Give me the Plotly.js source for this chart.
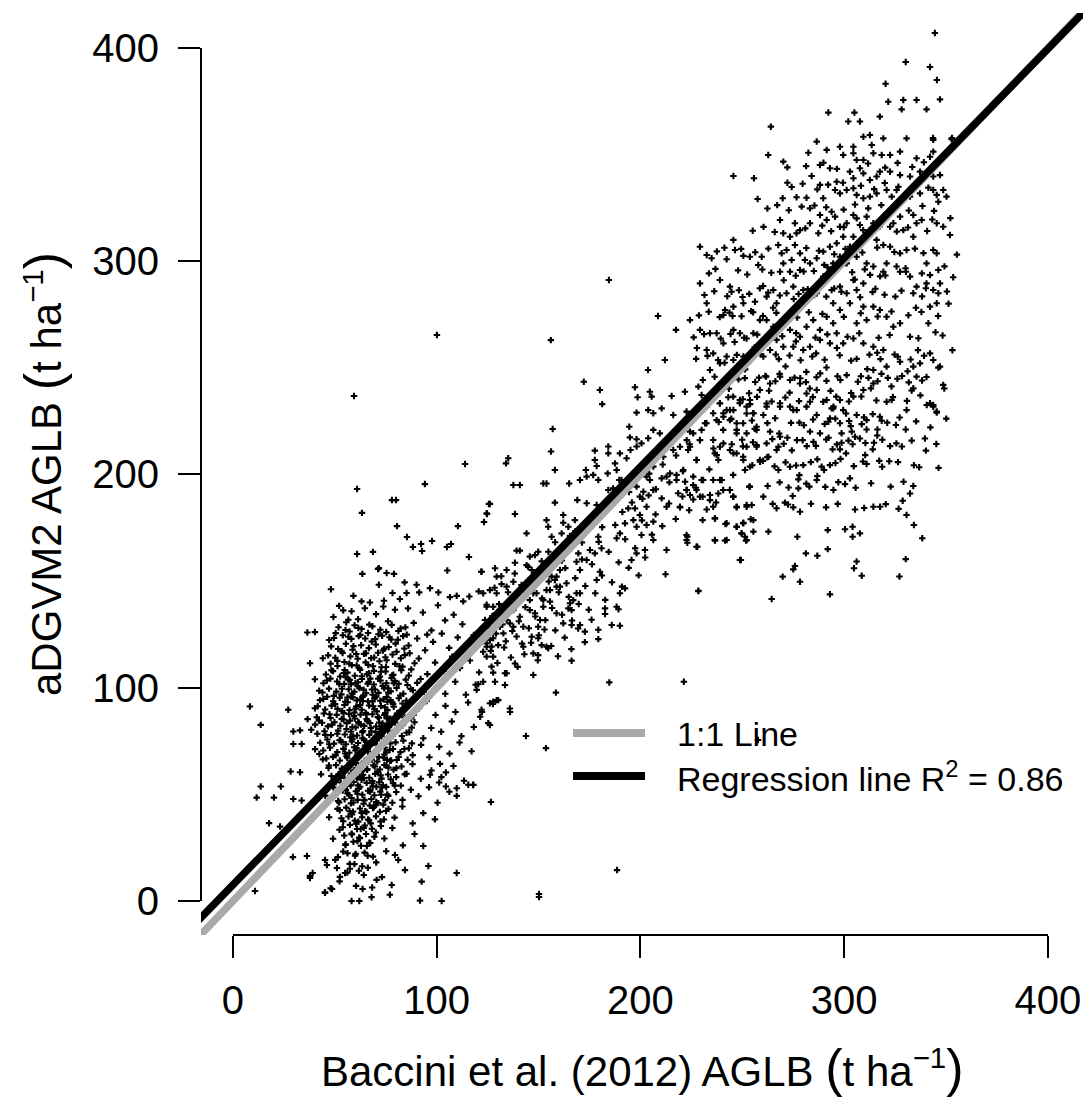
<!DOCTYPE html>
<html><head><meta charset="utf-8">
<script src="https://cdn.plot.ly/plotly-3.0.1.min.js"></script>
<style>html,body{margin:0;padding:0;background:#fff}#chart{width:1089px;height:1097px}</style>
</head><body><div id="chart"></div>
<script>
// ---- data ----
const xTicks = [0, 100, 200, 300, 400];
const yTicks = [0, 100, 200, 300, 400];
const regIntercept = 7.6;
const regSlope = 0.98;
const rSquared = 0.86;
const lineX = [-20, 420];
const xRange = [-15.7, 417.2];
const yRange = [-15.94, 416.4];

const ptsLowOutliers = [[71.6,156.1],[63.5,153.4],[75.4,153.8],[79,153.4],[105.2,155],[121.9,154.4],[48.1,146.2],[71.6,148.3],[84.2,149.4],[90.1,148.3],
[96.7,146.7],[100.8,144.7],[59.1,143.1],[63.1,140.5],[67.2,140],[74.1,140.8],[78.3,144.4],[81.9,141.6],[85.2,144.4],[91.4,144.7],
[106.5,142.5],[109.8,143.1],[113,140.5],[116,142.8],[120.6,145.2],[124.5,138.9],[54.1,136.3],[56.6,131.9],[61.5,128],[36.5,125.9],
[40.2,126.1],[37.8,111.5],[40.2,104],[8.3,91.2],[27.1,89.7],[13.6,82.6],[36.6,85.3],[29.6,79.5],[32.9,80],[29.6,73.6],
[33.7,73.6],[42.4,68.9],[28.3,60.7],[32.9,60.4],[13.6,53.7],[23.5,53.7],[11.6,48.5],[20.1,48.5],[29.6,47.8],[33.7,47.1],
[17.7,36.5],[23.1,34.9],[37.8,11.8],[39.1,13.1],[10.8,4.7],[45.1,4.1],[47.9,6],[58.2,0],[62,0],[68,1.8],
[77,2.9],[63.6,5.6],[70.5,9.9],[77.9,7.5],[84.4,14.5],[92.6,9.1],[95.9,16.4],[91.8,0.2],[102.4,0],[109.8,13.1],
[93.4,25.8],[79.5,21.6],[115.5,54.5],[118,54.5],[109.8,52.9],[109.8,49.3],[104.5,60.3],[101.2,55.6],[104.5,53.7],[101.6,64.3],
[96.7,59.2],[122,89.7],[125.3,83.4],[120.4,101.7],[119.6,99]];

const ptsLowEdge = [[100.1,265.4],[59.4,236.8],[60.9,193.2],[113.9,204.9],[94.2,195.5],[78,188],[80,188],[63.3,182],[80.5,175.8],[110.4,175.8],
[85.4,170.7],[88.3,166],[92.3,167.4],[92.8,164.1],[97.7,168.8],[105,166],[107,167.4],[60.9,162.7],[68.7,163.7],[115.8,161.3],
[123.2,177.7],[124.7,181.5],[125.6,186.2],[71.2,155.7],[122.2,88.6],[127.6,92.4],[136,88.6],[126.1,82.5],[143.8,77.4],[153.6,71.7],
[117.8,54.4],[126.6,46.4],[188.5,14.5],[150.2,1.9],[150.2,3.3],[29.4,20.6],[36.3,21.1],[37.8,10.8],[45.2,3.8],[48.6,5.6],
[45.2,19.2],[46.1,16.9],[51.5,20.6],[52.5,11.3],[55,13.1],[51,15.5],[257.7,75.5],[156,263],[184.5,291.2],[221.3,102.8],
[184.7,102.5],[166.2,112.7],[158.5,97.7],[212.3,153.2],[228.4,145.5]];

const ptsMidA = [[172.2,243.5],[180.1,239.6],[181.2,233],[197.3,240.9],[198.6,236.2],[204.6,238.8],[205.5,236.5],[198.1,229],[203.8,230.2],[206.3,228.7],
[210.4,231],[215.3,236.8],[216.1,227.9],[221.8,238.8],[222.6,229.5],[228.4,241.2],[230,237.3],[156.9,221.3],[156.1,210.8],[158,202.1],
[135.1,207.6],[134,205.2],[137.6,195.1],[140.8,195.1],[152.3,195.8],[153.9,195.8],[165,195.8],[170.3,197.4],[173.6,199],[177.6,211.2],
[184.2,213.1],[184.2,209.9],[189.9,209.9],[177.6,206.8],[178.5,204],[173.2,202.1],[176.8,199.8],[179.3,197.4],[183.9,200.5],[187.5,205.2],
[188.3,202.1],[190.7,197.4],[193.2,207.6],[195.1,211.5],[198.1,213.1],[200.5,214.6],[194.5,222.4],[194.8,217.4],[198.1,216.5],[203.8,217],
[206.3,220.9],[209.5,219.3],[126.1,186.2],[124.5,181.8],[138.4,181.5],[144.1,172.4],[122,154.4],[158,186.8],[162.1,181],[162.1,177.4],
[153.9,178.6],[154.7,175.5],[156.4,170.8],[161.3,172.4],[165.4,171.2],[164.6,175.5],[167.8,178.6],[169,188],[173.6,186.5],[178.5,185.7],
[184.2,192.7],[186.6,193.5],[189.6,197.4],[149.8,163.8],[148.2,162.2],[139.2,164.3],[140.8,164.3],[138.4,158.6],[144.1,157.5],[134.3,155.2],
[128.6,156],[129.4,152.1],[137.6,149.7],[134.3,147.4],[131.8,148.6],[126.1,145.8],[161.3,162.2],[163.7,166.1],[169.5,163],[168.6,159.1],
[173.6,159.9],[170.3,155.2],[160.5,155.2],[158,150.5],[156.4,152.1],[163.7,149],[153.9,145.8],[152.3,141.1],[147.4,144.3],[179.3,170.8]];

const ptsMidB = [[180.9,165.4],[177.6,163],[175.2,164.6],[180.1,154.4],[178.5,150.5],[188.3,170.1],[189.9,172.4],[192.4,177.1],[196.5,178.6],[198.1,175.5],
[200.5,171.6],[203,176.3],[206.3,177.9],[206.3,169.3],[212.8,164.6],[195.6,159.9],[198.1,163],[202.2,164.6],[189.9,144.3],[192.4,146.6],
[188.3,138],[182.6,137.2],[189.9,129.1],[179.3,122.8],[166.2,129.4],[170.3,129.4],[172.7,126.3],[168.6,144.3],[165.4,139.6],[164.6,137.2],
[147.4,106],[133.5,106.8],[127.7,107.1],[128.6,102.8],[133.5,101.3],[129.4,94.2],[127.7,93.5],[147.4,116.1],[149.8,115.3],[142.5,119.2],
[146.6,123.9],[149.8,123.2],[151.5,120],[153.9,119.2],[154.7,118.5],[149.8,128.6],[148.2,134.9],[150.7,131.8],[145.7,136.4],[152.3,138],
[155.6,140.4],[145.7,141.1],[140.8,141.9],[137.6,136.4],[140.8,133.3],[142.5,128.6],[139.2,124],[138.4,111.4],[127.7,114.6],[130.2,120],
[124.5,119.2],[122.8,116.9],[126.1,122.4],[132.7,125.5],[135.9,130.2],[131,134.9],[127.7,138],[124.5,120.8],[126.9,119.3],[124.5,114.6],
[126.9,109.9],[134.3,106.8],[122.8,102.8],[126.1,92.7],[130.2,94.2],[135.9,90.3],[137.6,128.6],[134.3,131.8],[131,128.6],[127.7,123.2],
[122.8,144.3],[124.5,138],[123.7,131.8],[131,136.4],[129.4,144.3],[145.7,161.5],[146.6,155.2],[150.7,150.5],[149,144.3],[158.8,152.1],
[160.5,147.4],[167,141.1],[170.3,144.3],[166.2,136.4],[158.8,147.4],[155.6,145.8],[162.1,130.2],[158.8,134.9]];

const ptsMidUpper = [[232.4,231.8],[235.7,228.7],[239,233.4],[242.3,230.2],[245.5,236.5],[248.8,234.9],[252.1,231.8],[255.4,228.7],[257,220.9],[250.4,224],
[247.2,220.9],[243.9,225.5],[240.6,220.9],[237.4,225.5],[235.7,216.2],[239,213],[236.5,209.9],[238.2,206.8],[243.9,211.5],[247.2,209.9],
[250.4,208.3],[252.1,213],[257,213],[258.6,206.8],[253.7,203.7],[251.3,202.1],[245.5,199.8],[239,197.4],[235.7,197.4],[230.8,197.4],
[227.5,192.7],[225.9,199],[221,202.1],[217.7,199.8],[218.5,191.2],[222.6,192.7],[224.3,190.4],[229.2,189.6],[234.1,190.4],[235.7,184.9],
[240.6,192.7],[243.9,192.7],[245.5,189.6],[247.2,184.9],[252.1,184.9],[253.7,194.3],[255.4,178.6],[250.4,177.1],[247.2,175.5],[251.3,170.8],
[252.1,169.3],[242.3,177.1],[236.5,179.4],[236.5,169.3],[242.3,169.3],[248.8,159.9],[249.6,172.4],[227.5,166.1],[222.6,169.3],[222.6,171.6],
[219.4,184.9],[212.8,184.9],[210.4,188.8],[206.3,192.7],[201.4,191.9],[199.7,189.6],[197.3,184.1],[199.7,181],[194,184.1],[203,184.9],
[212.8,199],[210.4,198.2],[214.5,200.5],[217.7,197.4],[227.5,206.8],[223.4,211.5],[229.2,216.2],[225.9,219.3],[232.4,224],[230,220.9],
[219.4,213],[216.1,211.5],[211.2,208.3],[206.3,203.7],[203,199],[204.6,197.4],[198.1,194.3]];

const ptsHighA = [[321.6,374.8],[329,375.6],[335.5,375.6],[347,375.9],[328.2,371.2],[340.4,371.2],[292.2,369.7],[305,369.7],[302,365.5],[307.7,365.5],
[317.5,367.8],[264,363.1],[286.5,356.1],[291.4,352.2],[297.9,353.7],[304.5,353.7],[309.4,358.4],[312.6,359.2],[313.5,354.5],[319.2,357.6],
[330.6,357.6],[343.7,356.9],[352.7,357.2],[262.7,349.8],[270.1,346.7],[272.1,344],[282.4,350.9],[288.1,345.1],[293,343.6],[299.5,349.8],
[304.5,350.6],[306.1,347.5],[309.4,347.5],[314.3,350.6],[318.4,349.8],[322.5,349.8],[327.4,351.4],[335.5,348.3],[342.1,349],[343.7,351.4],
[245.6,340],[255.7,338.9],[272.1,336.8],[284,340],[288.1,335.8],[296.3,337.3],[302.8,342],[304.5,338.9],[307.7,343.6],[309.4,341.2],
[312.6,338.1],[315.9,339.7],[317.5,342],[322.5,342],[327.4,340.4],[332.3,339.7],[337.2,342],[343.7,339.7],[347,340.4],[257.5,329.2],
[269.8,329.5],[276.6,330],[281.5,329.8],[279.1,325.6],[283.2,324.8],[289.7,329.5],[288.1,321.7],[293.8,323.2],[295.5,333.4],[297.9,331.8],
[301.2,333.4],[304.5,334.2],[306.1,331.1],[309.4,329.5],[312.6,330.3],[315.9,331.8],[320.8,333.4],[323.3,330.3],[325.7,333.4],[329,328.7],
[332.3,330.3],[337.2,331.8],[343.7,333.4],[345.4,331.1],[348.6,333.4],[346.2,327.9],[268.5,319.3],[275.8,317.8],[270.1,313.1],[273.4,311.5]];

const ptsHighB = [[276.6,313.1],[278.3,314.6],[283.2,317.8],[287.3,313.1],[291.4,319.3],[295.5,320.9],[297.9,316.2],[301.2,317.8],[304.5,321.7],[306.1,320.1],
[307.7,317],[311,320.9],[314.3,317.8],[320.8,320.9],[322.5,316.2],[327.4,320.9],[329,314.6],[333.9,321.7],[335.5,317.8],[338,319.3],
[345.4,317.8],[348.6,316.2],[351.9,312.3],[333.9,311.5],[324.1,317.8],[229.2,306.8],[232.5,302.9],[234.9,301.4],[242.3,300.9],[245.6,310],
[246.4,305.3],[250.5,302.5],[253.7,302.1],[259.5,302.1],[257.8,298.2],[267.6,307.6],[271.7,305.3],[275.8,307.6],[278.3,303.7],[280.7,300.6],
[274.2,300.6],[270.1,299],[268.5,295.1],[273.4,295.1],[278.3,295.9],[283.2,299],[286.5,301.4],[289.7,304.5],[293,306.8],[296.3,308.4],
[299.5,311.5],[302.8,306.8],[304.5,311.5],[307.7,308.4],[311,310.7],[315.9,310],[319.2,307.6],[322.5,306.8],[327.4,303.7],[330.6,305.3],
[320.8,299],[325.7,297.5],[327.4,295.1],[319.2,295.1],[314.3,297.5],[311,299],[306.1,302.1],[301.2,299],[297.9,302.1],[294.6,299],
[340.4,299],[343.7,305.3],[345.4,303.7],[346.2,295.9],[342.1,293.5],[347,289.6],[343.7,286.5],[346.2,285],[340.4,289.6],[335.5,288.1],
[333.9,285],[332.3,292.8],[353.5,292.5],[342.1,278.7],[345.4,280.3],[341.3,270.9],[332.3,264.6],[327.4,270.9],[324.1,269.3],[320.8,274],
[317.5,277.1],[314.3,278.7],[309.4,278.7],[311,272.4],[306.1,270.9],[302.8,280.3],[297.9,277.1],[301.2,285],[297.9,288.1],[306.1,286.5]];

const ptsHighC = [[309.4,289.6],[304.5,291.2],[229.2,289.6],[232.5,280.3],[239,291.2],[243.9,288.1],[244.7,285.7],[241.5,277.1],[240.7,274.8],[245.6,278.7],
[250.5,280.3],[256.2,281],[258.6,287.3],[265.2,286.5],[261.9,283.4],[266.8,280.3],[271.7,285],[275,288.1],[279.9,286.5],[283.2,283.4],
[286.5,285],[289.7,292.8],[293.8,286.5],[294.6,280.3],[229.2,267.8],[234.1,266.2],[237.4,266.2],[232.5,258.4],[235.7,256.8],[240.7,261.5],
[245.6,267.8],[248.8,266.2],[252.1,263.8],[255.4,266.2],[258.6,272.4],[261.9,272.4],[265.2,269.3],[268.5,270.9],[271.7,272.4],[273.4,267.8],
[278.3,264.6],[281.5,269.3],[284.8,272.4],[288.1,267.8],[291.4,274],[294.6,270.9],[296.3,266.2],[293,261.5],[288.1,263.1],[283.2,259.9],
[279.9,258.4],[275,259.9],[270.1,259.9],[266.8,263.1],[263.6,258.4],[260.3,255.3],[255.4,256.8],[250.5,255.3],[245.6,253.7],[242.3,255.3],
[239,252.1],[234.1,249],[299.5,261.5],[304.5,263.8],[309.4,261.5],[314.3,259.9],[319.2,258.4],[314.3,249],[320.8,250.6],[327.4,252.9],
[333.9,250.6],[337.2,252.1],[342.1,256.8],[343.7,253.7],[347,250.6],[348.6,242],[333.9,240.4],[323.3,234.9],[320.8,234.1],[343.7,232.6],
[342.1,233.4],[345.4,229.5],[335.5,245.9],[314.3,242.7],[309.4,239.6],[304.5,236.5],[299.5,230.2],[294.6,231],[291.4,234.9],[286.5,239.6],
[281.5,238],[278.3,242.7],[273.4,244.3],[268.5,245.9],[263.6,242.7],[258.6,239.6],[253.7,234.9],[248.8,233.4],[245.6,230.2],[240.7,228.7]];

const ptsHighD = [[255.4,228.7],[261.9,231.8],[268.5,233.4],[275,230.2],[281.5,231.8],[286.5,227.9],[293,226.3],[297.9,234.9],[306.1,227.9],[311,225.5],
[317.5,227.1],[330.6,230.2],[340.5,232.6],[343.7,231.8],[345.4,229],[339.6,216.9],[333.9,194.6],[332.3,191.1],[328.7,187.7],[330.6,181],
[314.3,184.9],[317.6,184.9],[305.3,183.6],[300.4,174.3],[304.1,175.5],[304.1,170.8],[307.7,172.4],[291.9,173.9],[291.9,165],[286.8,161.9],
[281.2,163],[277,170.8],[262.8,173.2],[269.8,152.1],[275.8,157.1],[275,155.5],[278.3,149.7],[264.4,141.6],[293,143.8],[306.1,159.2],
[304.8,156],[308.6,152.5],[249.3,159.9],[228.4,145.3],[223,170.8],[223,168],[227.9,166.1],[236.6,169],[241.5,169],[249.7,172.4],
[251.8,169],[255.4,173.2],[254.1,179],[250.5,177.4],[247.2,175.5],[241.7,176.8],[236.6,179.4],[232.5,183.6],[219.4,184.6],[260.3,189.6],
[264.9,186.2],[270.9,186.8],[275,184.6],[278.3,182.5],[274.7,189.9],[277.5,193.5],[282.9,194.3],[286.5,197.4],[286.8,199.3],[278,199.7],
[277.5,197.7],[267.7,202.1],[273.4,203.6],[279.9,204.4],[286.8,207.1],[290.1,202.1],[293,204.4],[294.7,192.7],[300.4,195.5],[302.8,198.2],
[311,204.9],[317.2,206.4],[314,211.8],[322.5,213.3],[314.6,214.9],[307.7,216.9],[305.3,217.7],[303.7,220.1],[298.7,219.3],[297.9,224],
[292.2,224.7],[293.8,231],[300.9,228.6],[303.2,222.7],[308.6,223.6],[311,221.1],[316.3,221.1],[318.4,225.2],[314,228.3],[325.4,223.2]];

const ptsHighE = [[330.2,221.1],[278,224.3],[272.1,217.2],[279.6,216.1],[281.6,213.3],[283.2,220.1],[288.1,219.3],[294.3,211.8],[297.9,211.8],[300.9,209.9],
[298.7,214.9],[262.8,208.3],[267.7,213],[258.7,206],[253.4,194.3],[245.6,189.6],[247.2,184.6],[252.1,185.7],[254.6,185.7],[239.9,197.4],
[238.2,191.1],[243.9,192.7],[234.1,188],[230.5,189.6],[225.9,188.3],[222.7,192.7],[221.9,196.6],[225.9,195],[230,197.4],[239,233.3],
[248.8,233.6],[253.8,233],[261.9,233.3],[268.5,231.8],[273.4,231.8],[276.7,230.2],[283.2,234.1],[294.7,231.8],[240.7,227.1],[243.9,230.2],
[247.2,224],[252.1,228.6],[257,222.4],[260.3,227.9],[263.6,220.1],[268.5,217.7],[247.2,219.3],[252.1,219.3],[240.7,214.6],[235.8,212.2],
[229.2,216.1],[224.3,220.1],[222.7,216.1],[231.7,224],[224.3,213],[245.6,209.9],[250.5,206.8],[257,213.8],[261.9,214.6],[266.8,211.5],
[237.4,209.1],[227.6,206.8]];

const ptsHighFill = [[241.3,252.4],[246.2,262.1],[251.4,249.3],[256.1,259.6],[261.3,246.2],[266.4,256.3],[271.2,250.7],[276.3,262.4],[281.4,248.1],[286.2,256.8],
[291.3,250.2],[296.4,259.3],[301.2,246.6],[306.1,254.2],[311.3,249.4],[316.2,257.1],[321.4,245.3],[326.3,255.2],[331.1,248.4],[336.2,258.3],
[243.4,240.2],[248.1,244.6],[253.3,238.1],[258.2,245.4],[263.1,239.3],[268.3,247.2],[273.2,238.4],[278.4,245.1],[283.1,240.3],[288.2,247.4],
[293.3,239.2],[298.1,244.3],[303.4,238.2],[308.2,246.1],[313.1,240.4],[318.3,247.2],[323.2,241.3],[328.4,246.2],[333.1,239.4],[338.2,244.1],
[245.2,274.3],[250.1,283.2],[255.3,276.1],[260.2,288.4],[265.1,278.2],[270.3,291.1],[275.2,282.3],[280.1,295.2],[285.3,284.1],[290.2,298.3],
[295.1,287.2],[300.3,299.1],[305.2,291.4],[310.1,296.2],[315.3,287.1],[320.2,293.3],[325.1,283.4],[330.3,295.1],[335.2,278.2],[340.1,287.3],
[250.3,213.2],[256.1,221.4],[262.2,208.1],[268.1,219.2],[274.3,211.3],[280.2,223.1],[286.1,213.4],[292.3,217.2],[298.2,207.3],[304.1,214.2],
[310.3,209.1],[316.2,218.3],[322.1,206.2],[328.3,213.1],[334.2,204.3],[340.1,211.2],[346.3,203.1],[330.2,160.3],[327.1,152.2],[338.3,170.1],
[334.2,176.3],[344.5,407],[342.1,391.1],[345.5,385],[320.3,383.2],[330.2,393.4],[343.6,357.8],[352.9,357.8],[350.2,330.3],[352.1,320.2],[355.3,303.1],
[351.2,280.1],[348.3,265.2],[353.1,258.3],[346.2,250.1],[349.1,240.3],[342.3,222.1],[345.2,214.3],[350.1,226.2],[208.6,274.3],[217.4,267.8],
[224.3,272.4],[227.7,259.3],[212,253.7],[203.7,249]];

const ptsHighExtra = [[281.3,344.6],[289.8,346.2],[296.4,343.3],[311.7,345.8],[320.1,343.9],[326.2,346.1],[333.4,344.2],[339.1,346.4],
[274.2,334.8],[279.6,336.3],[286.8,333.7],[292.1,335.9],[299.4,336.8],[308.2,335.4],[314.7,333.8],[319.9,336.7],[326.6,334.9],[334.8,336.2],[341.3,334.5],
[262.3,324.7],[267.1,326.3],[272.8,323.9],[285.4,326.1],[291.2,325.3],[299.7,324.2],[305.3,326.6],[311.8,324.8],[318.2,326.3],[324.9,325.1],[331.7,323.8],[338.4,325.9],[344.1,323.6],
[255.1,314.3],[260.4,316.1],[265.9,313.7],[280.9,315.4],[289.2,316.7],[293.6,314.1],[299.8,315.9],[309.3,314.6],[317.4,316.3],[325.8,313.9],[331.3,315.8],[340.7,314.2],[343.2,319.6],
[237.5,304.6],[241.2,306.3],[249.4,305.8],[256.3,304.2],[262.8,305.9],[269.3,303.7],[281.4,306.2],[287.6,304.9],[295.1,303.3],[300.6,305.8],[308.9,304.1],[316.2,306.4],[324.6,304.3],[334.7,305.9],[338.9,303.8],
[233.6,294.3],[236.8,296.4],[247.9,295.7],[252.4,293.8],[259.8,296.1],[264.2,294.6],[276.2,293.2],[285.1,295.4],[291.8,297.2],[303.9,294.8],[312.7,293.6],[317.6,292.9],[330.1,296.7],[338.1,294.3],[349.2,297.6],
[231.4,284.2],[236.2,285.9],[242.6,283.6],[248.3,286.4],[253.4,284.7],[262.7,285.3],[268.4,283.9],[277.6,284.6],[282.1,286.9],[291.2,283.4],[298.6,285.7],[307.8,283.1],[313.9,285.5],[319.8,284.3],[328.1,286.2],[338.2,283.5],[350.4,285.8],
[228.7,274.6],[233.5,276.3],[238.9,273.8],[243.7,275.9],[249.6,274.2],[254.3,276.6],[260.1,274.3],[266.7,275.8],[276.9,273.6],[282.6,276.1],[289.3,275.3],[299.8,273.9],[308.1,275.6],[316.4,274.1],[323.2,276.4],[331.5,274.7],[337.9,276.2],[346.1,274.3],
[226.1,264.3],[231.2,265.8],[239.4,263.7],[244.2,265.9],[250.9,264.1],[257.3,265.6],[262.1,263.4],[269.6,264.8],[276.4,266.3],[285.9,264.2],[291.7,265.7],[301.6,264.6],[307.4,266.2],[316.9,264.1],[322.3,265.4],[336.4,263.9],[344.8,266.7],
[227.3,254.2],[232.9,255.6],[238.1,253.7],[247.3,256.1],[253.6,254.3],[258.9,256.4],[267.9,254.1],[273.2,255.8],[278.6,253.6],[284.3,255.3],[290.4,253.8],[297.8,255.9],[303.4,253.4],[312.4,256.2],[317.8,254.1],[324.7,256.3],[332.6,253.9],[339.2,255.7],
[230.6,244.3],[236.4,245.8],[241.8,243.6],[251.2,245.2],[256.3,243.4],[261.7,245.9],[266.2,243.7],[275.6,245.4],[281.2,243.3],[286.4,245.6],[291.3,243.9],[296.7,246.1],[306.7,243.5],[311.9,245.3],[316.4,243.7],[326.1,244.9],[331.7,243.2],[340.4,245.7],
[234.3,234.6],[243.1,236.2],[250.2,235.3],[257.2,236.4],[264.4,234.2],[271.1,236.1],[277.8,234.4],[284.6,236.3],[289.7,234.1],[296.1,236.5],[302.3,234.2],[308.4,236.6],[315.8,234.7],[323.9,236.3],[330.8,234.5],[337.4,237.1],
[238.4,224.6],[244.6,226.1],[254.7,225.3],[262.3,224.1],[266.1,226.4],[273.9,224.2],[284.7,225.8],[290.4,223.7],[295.6,226.2],[302.4,225.1],[309.7,226.8],[321.1,224.3],[327.2,226.7],[335.3,224.9],
[244.8,214.2],[249.9,216.3],[255.2,215.1],[264.7,216.6],[270.3,214.4],[276.8,216.1],[284.9,215.3],[291.2,216.4],[296.4,214.1],[302.1,215.9],[310.4,214.8],[318.7,216.3],[325.6,214.6],[333.1,215.9],
[254.9,204.3],[260.1,206.4],[265.8,203.8],[271.2,205.7],[276.4,204.2],[283.6,205.8],[288.9,203.7],[295.7,205.4],[304.7,203.9],[309.2,206.1],[318.6,203.6],[326.4,205.8],[336.8,203.4],
[262.4,194.6],[268.3,196.3],[272.7,193.9],[281.4,195.7],[290.7,194.2],[297.1,196.4],[305.6,193.8],[313.2,195.9],[322.8,194.3],[329.1,196.6],
[266.8,184.2],[272.4,185.9],[283.7,186.3],[291.1,184.6],[296.8,186.2],[309.8,184.3],[320.4,186.1],[326.7,183.9]];

const ptsBandExtra = [[125.8,128.1],[127.3,133.6],[129.1,125.4],[130.6,139.2],[132.2,129.7],[133.9,121.8],[135.4,135.3],[137.1,126.6],[138.7,142.4],[140.3,131.2],
[141.9,120.7],[143.5,137.8],[145.2,127.9],[146.8,146.3],[148.4,133.4],[150.1,124.6],[151.7,141.9],[153.3,131.7],[155,149.8],[156.6,137.4],
[158.2,126.9],[159.9,144.8],[161.5,134.2],[163.1,156.1],[164.8,142.6],[166.4,131.5],[168,151.4],[169.7,139.3],[171.3,160.2],[172.9,147.7],
[174.6,136.6],[176.2,157.9],[177.8,144.3],[179.5,168.4],[181.1,152.6],[182.7,141.2],[184.4,163.7],[186,149.5],[187.6,176.3],[189.3,158.8],
[190.9,147.4],[192.5,169.6],[194.2,156.2],[195.8,186.9],[197.4,165.4],[199.1,152.7],[200.7,178.5],[202.3,161.1],[204,190.2],[205.6,171.8],
[126.5,117.3],[129.8,111.6],[133.1,118.9],[136.4,114.2],[139.7,109.8],[143,115.7],[146.3,121.1],[149.6,112.9],[152.9,127.3],[156.2,119.6],
[159.5,114.8],[162.8,123.5],[166.1,118.1],[169.4,127.8],[172.7,121.4],[176,131.9],[179.3,127.2],[182.6,134.6],[185.9,129.4],[189.2,136.8],
[128.4,146.9],[131.7,152.3],[135,144.8],[138.3,153.6],[141.6,148.2],[144.9,156.7],[148.2,151.9],[151.5,159.3],[154.8,163.8],[158.1,168.2],
[161.4,159.7],[164.7,166.9],[168,173.4],[171.3,168.1],[174.6,176.2],[177.9,180.7],[181.2,175.3],[184.5,184.6],[187.8,188.9],[191.1,182.4],
[194.4,191.8],[197.7,197.2],[201,188.6],[204.3,200.4],[207.6,193.1],[210.9,204.7],[214.2,196.3],[217.5,208.9],[220.8,201.5],[224.1,214.2],
[207.4,181.3],[210.7,175.8],[214,186.4],[217.3,179.1],[220.6,189.7],[223.9,183.2],[227.2,193.8],[230.5,178.6],[233.8,202.4],[237.1,186.9]];

const ptsCoreRows = [[49.3,133.2],[52.1,138.4],[55.6,130.7],[58.2,135.9],[61.4,132.1],[64.7,137.3],[66.9,129.6],[70.2,134.5],[73.8,138.1],[76.1,131.2],[79.5,136.6],[82.3,127.8],[85.9,137.2],[88.7,130.4],[93.2,135.3],[97.4,126.9],[100.6,138.7],[104.1,131.6],[108.3,134.2],[112.6,129.8],[57.2,126.4],[66.3,125.7],[75.2,126.1],[84.6,128.3],[95.3,124.9],
[47.2,122.4],[50.4,125.6],[53.3,117.1],[56.6,123.9],[59.1,119.5],[62.5,124.8],[65.3,116.2],[68.1,121.7],[71.4,125.1],[74.2,118.3],[77.7,122.6],[80.3,116.9],[83.5,124.2],[86.2,119.8],[90.4,123.1],[94.3,117.6],[98.2,121.5],[102.5,125.4],[106.1,118.7],[110.3,123.6],[114.5,120.2],[118.2,124.7],
[44.1,113.8],[48.3,108.2],[51.2,112.6],[54.4,106.9],[57.1,111.3],[60.5,115.8],[63.2,105.4],[66.4,110.7],[69.3,114.2],[72.6,107.5],[75.4,112.9],[78.1,105.8],[81.7,110.1],[84.3,115.3],[87.5,108.6],[91.2,113.7],[95.4,106.4],[99.2,111.8],[103.3,107.9],[107.6,114.6],[111.4,109.3],[116.3,112.8],[120.8,107.2],
[42.3,98.6],[46.1,103.4],[49.5,96.2],[52.2,101.7],[55.3,104.9],[58.4,97.3],[61.3,102.6],[64.1,99.1],[67.4,104.3],[70.3,95.8],[73.5,100.9],[76.2,97.7],[79.4,103.2],[82.1,96.4],[85.6,101.3],[88.3,98.8],[92.1,104.1],[96.2,95.6],[100.4,100.3],[104.2,97.2],[109.1,102.8],[114.3,96.7],[119.1,101.4],
[40.2,90.4],[44.3,94.7],[47.4,87.6],[50.1,92.3],[53.6,89.1],[56.2,95.4],[59.3,86.8],[62.4,91.9],[65.2,88.2],[68.5,93.6],[71.1,86.3],[74.6,90.8],[77.3,94.2],[80.5,87.9],[83.2,92.6],[87.4,85.7],[91.3,90.4],[95.1,93.8],[99.4,87.2],[104.3,91.5],[109.2,88.6],[115.4,93.1],[121.3,86.4],
[38.4,80.3],[42.2,84.6],[45.3,77.9],[48.6,82.7],[51.2,78.4],[54.3,85.1],[57.6,76.8],[60.2,81.4],[63.5,79.2],[66.3,84.3],[69.4,76.1],[72.2,80.7],[75.5,85.6],[78.3,77.4],[81.6,82.2],[85.2,78.9],[89.1,83.8],[93.4,76.3],[97.3,81.1],[102.2,79.4],[107.4,84.2],[112.1,77.3],[118.2,81.6],
[40.3,71.2],[44.1,66.4],[47.2,73.5],[50.4,68.3],[53.3,74.6],[56.1,67.2],[59.5,72.1],[62.2,69.6],[65.4,74.8],[68.1,66.3],[71.5,71.4],[74.3,68.7],[77.2,73.9],[80.4,66.1],[84.1,71.3],[88.2,68.4],[92.3,73.2],[96.4,67.4],[101.2,72.3],[106.3,69.1],[111.2,74.3],[117.1,70.2],
[43.2,59.4],[47.1,63.5],[50.3,57.2],[53.4,62.1],[56.2,56.3],[59.4,61.2],[62.1,58.4],[65.3,64.3],[68.4,56.2],[71.2,60.4],[74.3,63.8],[77.4,57.1],[80.2,62.3],[84.3,59.4],[88.1,64.2],[92.2,57.3],[97.4,61.2],[102.3,58.1],[108.2,63.3],[113.4,56.4],
[45.3,49.4],[49.2,53.3],[52.1,46.2],[55.4,52.1],[58.2,48.3],[61.3,54.2],[64.4,47.1],[67.2,51.3],[70.3,46.4],[73.1,53.2],[76.2,49.3],[79.4,54.1],[83.2,47.4],[87.3,52.2],[91.1,49.1],[96.2,53.3],[100.4,46.1],[106.2,51.2],
[47.2,39.3],[51.3,43.2],[54.1,37.4],[57.2,42.1],[60.4,36.2],[63.1,41.3],[66.3,38.2],[69.2,44.1],[72.4,37.3],[75.1,42.2],[79.3,39.1],[83.1,44.3],[88.2,36.4],[93.4,41.2],[99.1,38.3],
[49.1,29.2],[52.3,33.4],[55.2,26.3],[58.4,31.2],[61.1,28.1],[64.2,34.3],[67.4,27.2],[70.1,32.1],[74.3,29.3],[78.2,34.2],[83.4,26.1],[89.1,31.4],
[50.2,19.3],[54.1,23.2],[57.3,17.4],[60.2,22.1],[63.4,16.3],[66.1,21.2],[70.3,18.1],[75.2,23.3],[81.1,19.2],
[52.3,9.2],[56.1,13.3],[60.4,7.1],[64.2,12.2],[68.3,6.3],[73.1,11.2]];

const ptsCoreDense = [[53.5,99.5],[56.5,104],[58.8,95.5],[61.2,100.7],[63.7,93.8],[66.1,101.9],[68.6,96.7],[71.3,104.2],[73.9,94.6],[76.2,99.8],[78.6,92.3],
[54.3,88.1],[57.4,84.6],[60.2,90.3],[62.8,82.7],[65.4,87.5],[67.9,79.6],[70.6,88.9],[73.1,82.2],[75.7,86.4],[78.4,79.1],
[52.7,75.5],[55.1,69.2],[58.3,74.8],[60.9,68.4],[63.5,76.3],[66.2,70.1],[69.1,74.2],[71.6,67.5],[74.4,71.9],[77.1,65.7],
[54.9,62.3],[57.7,58.6],[60.4,64.7],[63.1,56.9],[65.8,61.5],[68.3,55.2],[70.9,60.8],[73.6,54.3],[76.3,62.6],
[56.2,50.4],[59.1,46.2],[61.8,52.7],[64.5,47.5],[67.4,51.9],[70.2,45.3],[72.7,49.8],[58.4,40.6],[61.5,37.2],[64.9,42.1],[67.6,36.4],[62.3,29.5],[65.7,25.8],[59.6,17.3],
[54.8,108.3],[57.9,101.6],[60.7,110.4],[63.9,96.3],[66.8,106.8],[69.7,99.2],[72.9,109.6],[75.8,93.4],[78.9,102.1],
[56.3,93.2],[59.6,88.4],[62.6,94.6],[65.9,84.5],[68.8,91.3],[71.8,83.7],[74.7,88.1],[77.9,84.9],
[55.7,80.6],[58.9,77.2],[61.8,83.5],[64.8,72.9],[67.6,81.2],[70.5,73.4],[73.3,78.6],[76.9,70.8],
[54.2,71.3],[57.3,64.8],[60.1,70.6],[63.4,60.9],[66.5,67.2],[69.6,63.1],[72.5,58.9],[75.6,66.2],
[57.8,54.2],[61.1,50.3],[64.2,57.6],[67.1,44.8],[70.4,53.6],[73.8,45.2],[62.7,33.8]];

const ptsCoreExtra = [[51.8,128.4],[55.2,127.1],[59.7,129.3],[63.1,127.6],[68.4,128.8],[72.3,127.2],[77.9,129.5],[81.2,126.6],
[49.6,123.3],[53.9,124.6],[58.1,122.9],[61.7,124.2],[64.9,123.1],[69.8,122.8],[73.2,124.4],[76.8,123.7],[80.9,122.5],[85.3,124.9],
[48.2,119.4],[51.6,118.2],[55.4,120.6],[58.7,117.8],[62.9,119.9],[66.7,118.6],[70.1,120.3],[73.6,117.5],[76.4,119.1],[79.8,120.7],[84.1,118.4],
[46.7,115.2],[50.2,114.1],[53.8,116.3],[57.6,114.7],[61.2,113.6],[64.3,115.9],[67.8,113.9],[71.2,116.4],[74.8,114.3],[78.3,115.6],[82.4,113.8],[86.7,116.2],
[47.9,111.3],[51.3,110.2],[54.7,112.1],[58.3,110.6],[61.9,109.3],[65.1,111.9],[68.7,110.1],[71.9,112.4],[75.1,109.7],[79.6,111.2],[83.2,109.9],[89.1,111.5],
[45.6,106.2],[49.1,107.8],[52.6,105.3],[56.2,107.1],[59.8,105.6],[62.4,108.4],[65.7,106.3],[69.2,107.9],[72.1,105.2],[74.9,107.6],[78.7,106.1],[82.6,108.2],[86.3,105.7],
[44.4,102.1],[47.8,104.3],[51.1,102.9],[54.6,101.8],[57.3,103.7],[60.1,102.2],[63.3,104.1],[66.6,102.7],[69.1,101.5],[72.4,103.4],[75.3,102.1],[77.8,104.6],[81.3,101.9],[84.8,103.8],[90.4,102.3],
[43.9,97.8],[47.1,99.6],[50.7,98.2],[53.2,96.9],[56.8,99.3],[59.6,98.1],[62.1,99.9],[65.4,97.4],[68.2,99.2],[71.4,97.6],[74.2,99.7],[77.4,98.3],[80.3,99.9],[83.6,97.2],[87.2,99.4],[93.6,98.1],
[42.7,94.2],[46.2,95.8],[49.2,93.7],[52.4,95.3],[55.1,93.4],[57.9,95.9],[60.8,94.1],[63.6,95.7],[66.3,93.6],[69.5,95.2],[72.3,93.9],[75.4,95.6],[78.2,93.2],[81.4,95.1],[85.1,93.9],[89.3,95.7],
[41.6,91.3],[45.2,89.8],[48.4,91.6],[51.3,90.1],[54.7,91.9],[57.2,89.6],[60.5,91.2],[63.2,89.7],[66.8,91.7],[69.4,89.9],[72.6,91.4],[75.8,89.5],[78.9,91.1],[82.3,89.3],[86.4,91.8],
[41.1,86.2],[44.6,87.9],[47.9,85.8],[50.9,87.3],[53.4,85.4],[56.9,87.7],[59.8,85.6],[62.6,87.4],[65.6,85.3],[68.4,87.6],[71.6,85.9],[74.3,87.2],[77.2,85.5],[80.8,87.8],[84.2,86.1],[88.6,87.3],
[40.3,82.7],[43.7,83.6],[46.6,81.9],[49.8,83.8],[52.7,82.2],[55.8,83.4],[58.6,81.6],[61.5,83.9],[64.4,82.1],[67.3,83.5],[70.2,81.8],[73.4,83.3],[76.6,81.5],[79.5,83.7],[83.4,82.4],[87.7,81.3],
[41.4,78.4],[44.9,79.6],[48.1,77.8],[51.6,79.9],[54.9,78.1],[57.9,79.4],[60.9,77.6],[63.8,79.7],[66.9,77.9],[70.1,79.2],[72.9,77.3],[76.1,79.8],[79.2,78.6],[82.9,77.4],[86.5,79.1],
[42.8,74.2],[46.3,75.7],[49.6,73.8],[52.3,75.4],[55.4,73.5],[58.6,75.9],[61.4,74.1],[64.3,75.6],[67.2,73.7],[70.6,75.3],[73.7,73.4],[76.4,75.8],[79.8,74.4],[83.6,75.2],[87.8,73.9],
[44.3,70.6],[47.6,71.9],[51.2,69.8],[54.3,71.4],[57.1,69.5],[60.6,71.7],[63.3,69.9],[66.1,71.2],[69.3,69.4],[72.1,71.8],[75.2,69.7],[78.5,71.3],[82.2,69.8],[86.3,71.6],
[45.8,66.8],[49.1,67.6],[52.4,65.9],[55.7,67.9],[58.4,65.6],[61.6,67.4],[64.6,65.8],[67.7,67.7],[70.8,65.4],[73.9,67.2],[77.6,65.9],[81.3,67.5],[85.7,66.2],
[46.9,62.4],[50.6,63.7],[53.6,61.8],[56.8,63.3],[59.9,61.5],[62.9,63.9],[65.9,61.9],[68.9,63.6],[72.1,61.7],[75.3,63.4],[78.8,61.6],[82.7,63.1],
[48.3,58.6],[51.8,59.4],[54.8,57.7],[57.9,59.8],[60.9,57.5],[63.8,59.2],[66.9,57.8],[69.8,59.6],[72.9,57.4],[76.1,59.3],[80.1,58.1],[85.2,59.7],
[49.4,54.8],[52.9,55.6],[55.9,53.9],[59.2,55.8],[62.4,53.6],[65.6,55.4],[68.6,53.8],[71.8,55.7],[75.2,53.5],[78.6,55.2],[82.4,54.1],
[50.8,50.6],[53.9,51.8],[57.1,49.7],[60.3,51.5],[63.5,49.8],[66.3,51.7],[69.4,49.6],[72.3,51.3],[75.7,49.9],[80.1,51.1],
[51.6,46.9],[54.8,47.7],[57.9,45.8],[61.2,47.4],[64.1,45.6],[67.9,47.8],[71.3,45.9],[74.6,47.3],[78.2,46.1],
[52.4,42.6],[55.6,43.8],[58.9,41.9],[62.3,43.4],[65.5,41.7],[68.7,43.6],[72.1,41.8],[76.3,43.2],
[53.2,38.8],[56.7,39.6],[59.8,37.7],[63.4,39.3],[66.8,37.9],[70.2,39.7],[74.1,38.2],
[53.9,34.6],[57.4,35.7],[60.9,33.8],[64.7,35.4],[68.2,33.9],[72.6,35.2],
[54.6,30.7],[58.2,31.6],[61.9,29.8],[65.3,31.4],[69.4,30.1],
[55.3,26.6],[59.1,27.8],[62.8,25.9],[66.9,27.3],
[56.2,22.4],[59.9,21.3],[64.6,22.7],[68.7,20.8],
[57.4,15.1],[61.8,14.2],[66.2,15.6]];

// ---- build ----
const allPts = [].concat(ptsLowOutliers, ptsLowEdge, ptsMidA, ptsMidB, ptsMidUpper, ptsBandExtra,
  ptsHighA, ptsHighB, ptsHighC, ptsHighD, ptsHighE, ptsHighFill, ptsHighExtra,
  ptsCoreRows, ptsCoreDense, ptsCoreExtra);
const bacciniX = allPts.map(p => p[0]);
const adgvmY = allPts.map(p => p[1]);

const FONT = "Liberation Sans, Arial, Helvetica, sans-serif";
const px = v => (v - xRange[0]) / (xRange[1] - xRange[0]);
const py = v => (v - yRange[0]) / (yRange[1] - yRange[0]);

const traces = [
  {type:'scatter', mode:'markers', x:bacciniX, y:adgvmY,
   marker:{symbol:'cross-thin', size:4.6, color:'#000', line:{color:'#000', width:2.1}},
   showlegend:false, hoverinfo:'skip'},
  {type:'scatter', mode:'lines', x:lineX, y:lineX, name:'1:1 Line',
   line:{color:'#A9A9A9', width:7.5}, showlegend:false, hoverinfo:'skip'},
  {type:'scatter', mode:'lines', x:lineX, y:lineX.map(v => regIntercept + regSlope * v), name:'Regression line',
   line:{color:'#000', width:7.5}, showlegend:false, hoverinfo:'skip'}
];

const PW = 882, PH = 922; // plot area size in px
const layout = {
  width:1089, height:1097,
  margin:{l:201, r:6, t:13, b:162, pad:0},
  paper_bgcolor:'#fff', plot_bgcolor:'#fff',
  font:{family:FONT, color:'#000', size:40},
  showlegend:false,
  xaxis:{range:xRange, tickvals:xTicks, ticktext:xTicks.map(String), ticks:'outside', ticklen:22, tickwidth:2,
         tickcolor:'#000', showline:false, showgrid:false, zeroline:false,
         tickfont:{family:FONT, size:40, color:'#000'}, ticklabelstandoff:8, fixedrange:true},
  yaxis:{range:yRange, tickvals:yTicks, ticktext:yTicks.map(String), ticks:'outside', ticklen:22, tickwidth:2,
         tickcolor:'#000', showline:false, showgrid:false, zeroline:false,
         tickfont:{family:FONT, size:40, color:'#000'}, ticklabelstandoff:11, fixedrange:true},
  shapes:[
    {type:'line', xref:'paper', yref:'paper', x0:px(xTicks[0]), x1:px(xTicks[xTicks.length-1]), y0:0, y1:0, line:{color:'#000', width:2}},
    {type:'line', xref:'paper', yref:'paper', x0:0, x1:0, y0:py(yTicks[0]), y1:py(yTicks[yTicks.length-1]), line:{color:'#000', width:2}},
    {type:'line', xref:'paper', yref:'paper', x0:(573-201)/PW, x1:(645-201)/PW, y0:(935-733)/PH, y1:(935-733)/PH, line:{color:'#A9A9A9', width:8}},
    {type:'line', xref:'paper', yref:'paper', x0:(573-201)/PW, x1:(645-201)/PW, y0:(935-776)/PH, y1:(935-776)/PH, line:{color:'#000', width:8}}
  ],
  annotations:[
    {xref:'paper', yref:'paper', x:0.5, y:(935-1068)/PH, xanchor:'center', yanchor:'middle', showarrow:false,
     text:'Baccini et al. (2012) AGLB <span style="font-size:52px">(</span>t ha<sup>−1</sup><span style="font-size:52px">)</span>',
     font:{family:FONT, size:42, color:'#000'}},
    {xref:'paper', yref:'paper', x:(43-201)/PW, y:0.5, xanchor:'center', yanchor:'middle', showarrow:false, textangle:-90,
     text:'aDGVM2 AGLB <span style="font-size:52px">(</span>t ha<sup>−1</sup><span style="font-size:52px">)</span>',
     font:{family:FONT, size:42, color:'#000'}},
    {xref:'paper', yref:'paper', x:(675-201)/PW, y:(935-734)/PH, xanchor:'left', yanchor:'middle', showarrow:false,
     text:'1:1 Line', font:{family:FONT, size:34, color:'#000'}},
    {xref:'paper', yref:'paper', x:(675-201)/PW, y:(935-777)/PH, xanchor:'left', yanchor:'middle', showarrow:false,
     text:'Regression line R<sup>2</sup> = ' + rSquared.toFixed(2), font:{family:FONT, size:34, color:'#000'}}
  ]
};

Plotly.newPlot('chart', traces, layout, {staticPlot:true, displayModeBar:false});
</script>
</body></html>
